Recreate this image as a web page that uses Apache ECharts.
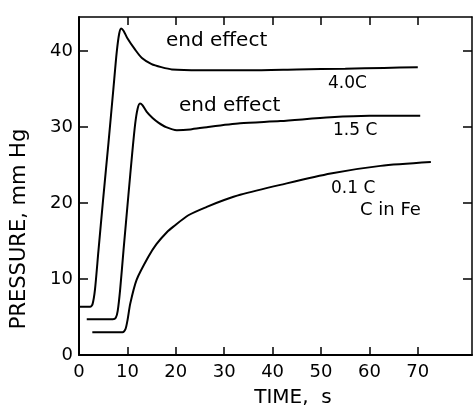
<!DOCTYPE html>
<html>
<head>
<meta charset="utf-8">
<script src="https://cdn.jsdelivr.net/npm/echarts@6/dist/echarts.min.js"></script>
<style>
  body { margin: 0; background: #fff; }
  #chart { width: 475px; height: 408px; }
</style>
</head>
<body>
<div id="chart"></div>
<script>
// values: time (s) / pressure (mm Hg)
const time40 = [0, 2.3, 2.8, 3.3, 4.0, 5.0, 6.1, 7.1, 7.8, 8.3, 8.7, 9.2, 10.0, 11.6, 13.0, 15.0, 17.0, 19.2, 25, 35, 45, 55, 63, 70];
const pres40 = [6.35, 6.35, 6.7, 8.6, 13.6, 20.6, 28.0, 35.0, 39.9, 42.3, 43.0, 42.7, 41.7, 40.2, 39.1, 38.3, 37.9, 37.6, 37.5, 37.5, 37.6, 37.7, 37.8, 37.9];

const time15 = [1.6, 7.0, 7.6, 8.0, 8.5, 9.2, 10.2, 11.0, 11.6, 12.1, 12.6, 13.1, 14.0, 15.2, 16.4, 18.0, 20.2, 23.0, 26.4, 33.3, 41.6, 52, 60, 70.5];
const pres15 = [4.7, 4.7, 4.9, 5.8, 8.6, 13.8, 21.0, 26.6, 30.4, 32.4, 33.1, 32.9, 32.0, 31.2, 30.6, 30.0, 29.6, 29.7, 30.0, 30.5, 30.8, 31.3, 31.5, 31.5];

const time01 = [2.75, 9.0, 9.6, 10.0, 10.6, 11.9, 14.3, 16.0, 18.2, 19.5, 22.6, 26.4, 30, 33.3, 41.6, 52, 62.3, 72.7];
const pres01 = [3.0, 3.0, 3.4, 4.5, 6.8, 9.9, 12.9, 14.6, 16.2, 16.9, 18.4, 19.5, 20.4, 21.1, 22.4, 23.9, 24.9, 25.4];

const xTicks = [0, 10, 20, 30, 40, 50, 60, 70];
const yTicks = [0, 10, 20, 30, 40];

const font = "DejaVu Sans";

function pairs(xs, ys) {
  return xs.map((x, i) => [x, ys[i]]);
}

function curve(name, xs, ys) {
  return {
    name: name,
    type: "line",
    data: pairs(xs, ys),
    showSymbol: false,
    smooth: 0.25,
    lineStyle: { color: "#000", width: 2 },
    silent: true
  };
}

function label(text, x, y, size) {
  return {
    type: "text",
    x: x,
    y: y,
    style: {
      text: text,
      fill: "#000",
      font: size + "px '" + font + "'",
      textAlign: "left",
      textVerticalAlign: "middle"
    }
  };
}

const tickStyle = { color: "#000", width: 1.5 };

const chart = echarts.init(document.getElementById("chart"));
chart.setOption({
  animation: false,
  backgroundColor: "#fff",
  grid: { left: 79, right: 3, top: 17, bottom: 53 },
  xAxis: [
    {
      type: "value",
      position: "bottom",
      min: 0,
      max: 81.2,
      axisLine: { onZero: false, lineStyle: { color: "#000", width: 2 } },
      axisTick: { inside: true, length: 8, customValues: xTicks.slice(1), lineStyle: tickStyle },
      axisLabel: { customValues: xTicks, color: "#000", fontSize: 18, fontFamily: font, margin: 8 },
      splitLine: { show: false }
    },
    {
      type: "value",
      position: "top",
      min: 0,
      max: 81.2,
      axisLine: { onZero: false, lineStyle: { color: "#000", width: 1.5 } },
      axisTick: { inside: true, length: 8, customValues: xTicks.slice(1), lineStyle: tickStyle },
      axisLabel: { show: false },
      splitLine: { show: false }
    }
  ],
  yAxis: [
    {
      type: "value",
      position: "left",
      min: 0,
      max: 44.5,
      axisLine: { show: true, onZero: false, lineStyle: { color: "#000", width: 2 } },
      axisTick: { show: true, inside: true, length: 9, customValues: yTicks.slice(1), lineStyle: tickStyle },
      axisLabel: { customValues: yTicks, color: "#000", fontSize: 18, fontFamily: font, margin: 6 },
      splitLine: { show: false }
    },
    {
      type: "value",
      position: "right",
      min: 0,
      max: 44.5,
      axisLine: { show: true, onZero: false, lineStyle: { color: "#000", width: 1.5 } },
      axisTick: { show: true, inside: true, length: 9, customValues: yTicks.slice(1), lineStyle: tickStyle },
      axisLabel: { show: false },
      splitLine: { show: false }
    }
  ],
  series: [
    curve("4.0C", time40, pres40),
    curve("1.5C", time15, pres15),
    curve("0.1C", time01, pres01)
  ],
  graphic: [
    label("end effect", 166, 41, 20),
    label("end effect", 179, 106, 20),
    label("4.0C", 328, 84, 17),
    label("1.5 C", 333, 131, 17),
    label("0.1 C", 331, 189, 17),
    label("C in Fe", 360, 210, 18),
    {
      type: "text",
      x: 20,
      y: 229,
      rotation: Math.PI / 2,
      style: {
        text: "PRESSURE, mm Hg",
        fill: "#000",
        font: "21px '" + font + "'",
        textAlign: "center",
        textVerticalAlign: "middle"
      }
    },
    {
      type: "text",
      x: 293,
      y: 398,
      style: {
        text: "TIME,  s",
        fill: "#000",
        font: "20px '" + font + "'",
        textAlign: "center",
        textVerticalAlign: "middle"
      }
    }
  ]
});
</script>
</body>
</html>
